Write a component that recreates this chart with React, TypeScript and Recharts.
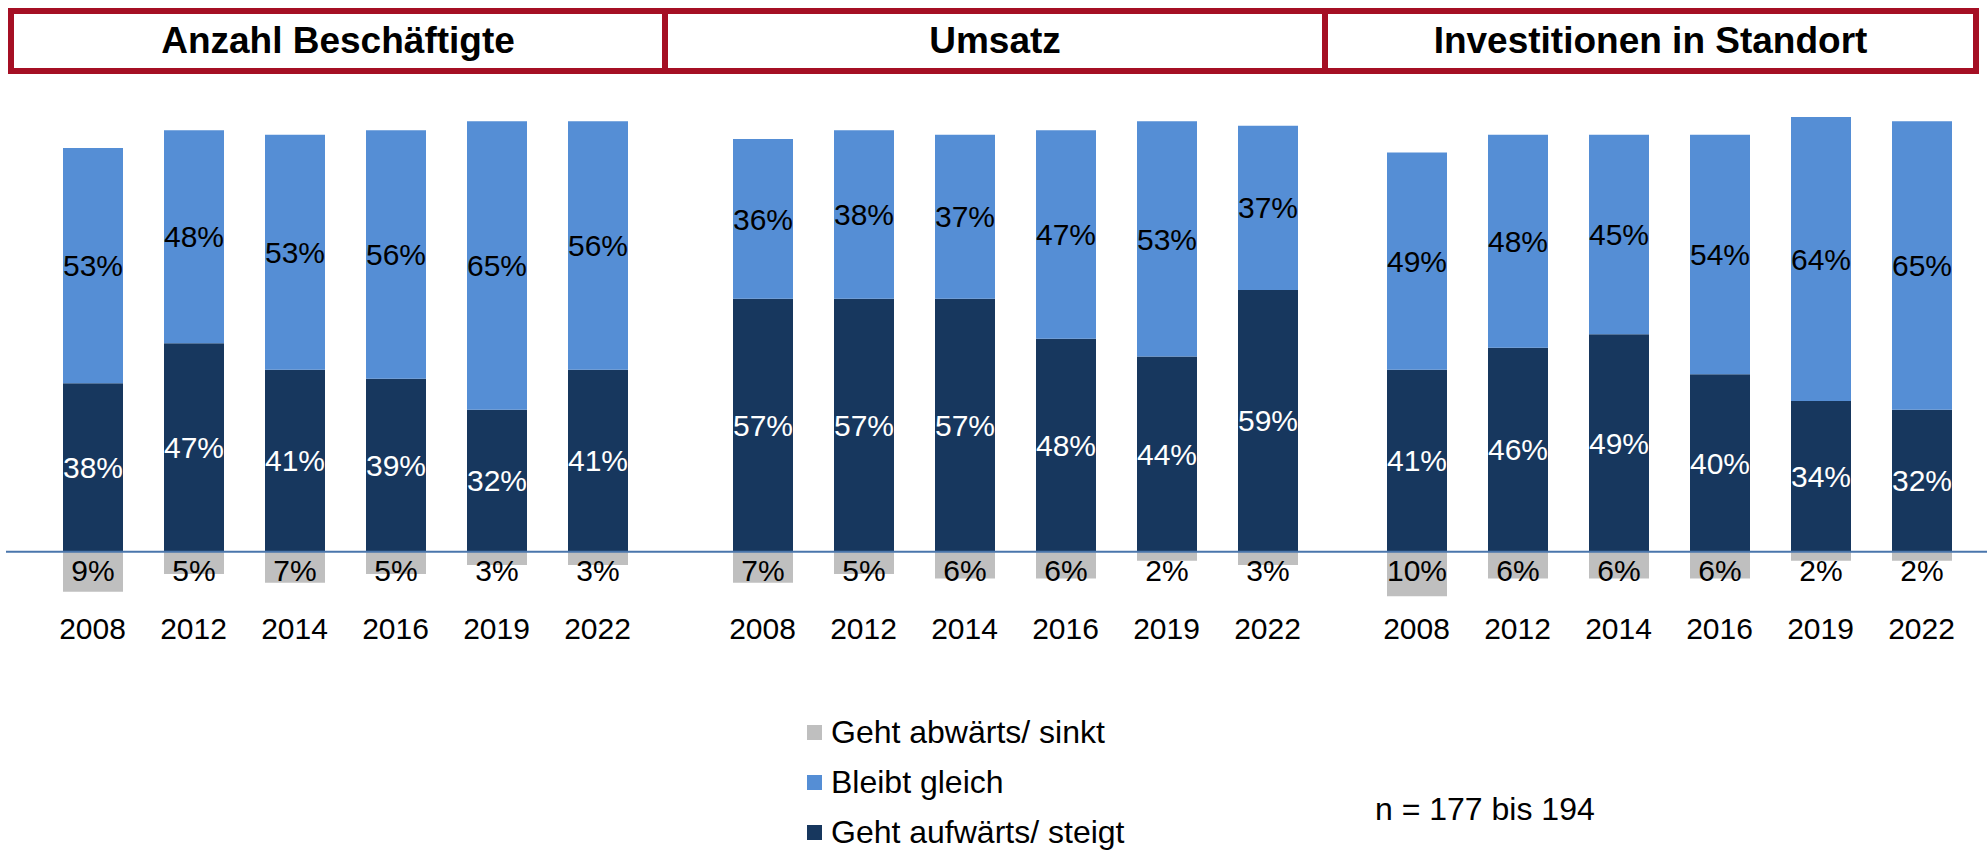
import { Bar, BarChart, LabelList, Legend, ReferenceLine, XAxis, YAxis } from "recharts";

const years = ["2008", "2012", "2014", "2016", "2019", "2022"];
const panelTitles = ["Anzahl Beschäftigte", "Umsatz", "Investitionen in Standort"];
const seriesNames = ["Geht aufwärts/ steigt", "Bleibt gleich", "Geht abwärts/ sinkt"];

// Anzahl Beschäftigte
const staffUp = [38, 47, 41, 39, 32, 41];
const staffSame = [53, 48, 53, 56, 65, 56];
const staffDown = [9, 5, 7, 5, 3, 3];

// Umsatz
const salesUp = [57, 57, 57, 48, 44, 59];
const salesSame = [36, 38, 37, 47, 53, 37];
const salesDown = [7, 5, 6, 6, 2, 3];

// Investitionen in Standort
const investUp = [41, 46, 49, 40, 34, 32];
const investSame = [49, 48, 45, 54, 64, 65];
const investDown = [10, 6, 6, 6, 2, 2];

const sampleNote = "n = 177 bis 194";

const DARK = "#17375E";
const LIGHT = "#558ED5";
const GRAY = "#BFBFBF";
const FONT = "'Liberation Sans', Arial, sans-serif";
const LABEL_SIZE = 30;

const build = (up: number[], same: number[], down: number[]) =>
	years.map((year, i) => ({ year, up: up[i], same: same[i], down: -down[i] }));

const panels = [
	{ data: build(staffUp, staffSame, staffDown), left: 6, width: 674, pad: { left: 36, right: 32 } },
	{ data: build(salesUp, salesSame, salesDown), left: 680, width: 660, pad: { left: 32, right: 22 } },
	{ data: build(investUp, investSame, investDown), left: 1340, width: 647, pad: { left: 26, right: 15 } },
];

const pct = (v: any) => `${Math.abs(Number(v))}%`;

const DownLabel = (props: any) => {
	const { x, y, width, height, value } = props;
	const top = Math.min(Number(y), Number(y) + Number(height));
	return (
		<text
			x={Number(x) + Number(width) / 2}
			y={top + 19}
			dy="0.35em"
			textAnchor="middle"
			fontSize={LABEL_SIZE}
			fontFamily={FONT}
			fill="#000"
		>
			{pct(value)}
		</text>
	);
};

const LegendBox = () => {
	const items = [
		{ name: seriesNames[2], color: GRAY },
		{ name: seriesNames[1], color: LIGHT },
		{ name: seriesNames[0], color: DARK },
	];
	return (
		<div style={{ fontFamily: FONT }}>
			{items.map((it) => (
				<div key={it.name} style={{ display: "flex", alignItems: "center", height: 50 }}>
					<span style={{ width: 15, height: 15, background: it.color, marginRight: 9 }} />
					<span style={{ fontSize: 32, color: "#000" }}>{it.name}</span>
				</div>
			))}
		</div>
	);
};

export default function App() {
	return (
		<div style={{ position: "absolute", left: 0, top: 0, width: 1987, height: 850, background: "#fff", overflow: "hidden" }}>
			<div
				style={{
					position: "absolute",
					left: 8,
					top: 8,
					width: 1971,
					height: 66,
					border: "6px solid #A50F24",
					boxSizing: "border-box",
					display: "flex",
					fontFamily: FONT,
					fontWeight: "bold",
					fontSize: 37,
				}}
			>
				{panelTitles.map((t, i) => (
					<div
						key={t}
						style={{
							width: i === 0 ? 648 : i === 1 ? 654 : undefined,
							flex: i === 2 ? 1 : undefined,
							borderLeft: i > 0 ? "6px solid #A50F24" : undefined,
							display: "flex",
							alignItems: "center",
							justifyContent: "center",
						}}
					>
						{t}
					</div>
				))}
			</div>

			{panels.map((p, i) => (
				<div key={i} style={{ position: "absolute", left: p.left, top: 100 }}>
					<BarChart
						width={p.width}
						height={545}
						data={p.data}
						stackOffset="sign"
						margin={{ top: 8, right: 0, bottom: 0, left: 0 }}
					>
						<XAxis
							dataKey="year"
							padding={p.pad}
							axisLine={false}
							tickLine={false}
							tickMargin={7}
							height={40}
							tick={{ fontSize: 30, fill: "#000", fontFamily: FONT }}
						/>
						<YAxis hide domain={[-12, 100]} allowDataOverflow />
						<Bar dataKey="up" name={seriesNames[0]} stackId="s" fill={DARK} barSize={60} isAnimationActive={false}>
							<LabelList dataKey="up" position="center" formatter={pct} fill="#fff" fontSize={LABEL_SIZE} fontFamily={FONT} />
						</Bar>
						<Bar dataKey="same" name={seriesNames[1]} stackId="s" fill={LIGHT} barSize={60} isAnimationActive={false}>
							<LabelList dataKey="same" position="center" formatter={pct} fill="#000" fontSize={LABEL_SIZE} fontFamily={FONT} />
						</Bar>
						<Bar dataKey="down" name={seriesNames[2]} stackId="s" fill={GRAY} barSize={60} isAnimationActive={false}>
							<LabelList dataKey="down" content={DownLabel} />
						</Bar>
						<ReferenceLine y={0} stroke="#4A76AC" strokeWidth={2} />
						{i === 1 && (
							<Legend
								layout="vertical"
								align="center"
								verticalAlign="middle"
								content={() => <LegendBox />}
								wrapperStyle={{ position: "absolute", left: 127, top: 607, width: 440, height: 150 }}
							/>
						)}
					</BarChart>
				</div>
			))}

			<div style={{ position: "absolute", left: 1375, top: 791, fontFamily: FONT, fontSize: 32, color: "#000" }}>
				{sampleNote}
			</div>
		</div>
	);
}
